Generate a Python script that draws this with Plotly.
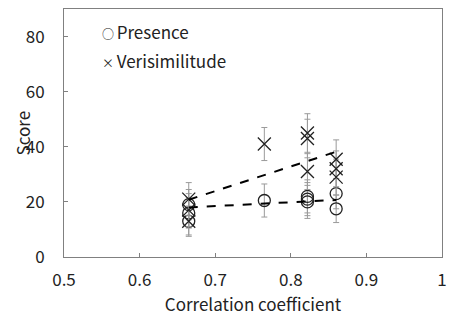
import plotly.graph_objects as go

# Data
pres_x = [0.665, 0.665, 0.665, 0.765, 0.822, 0.822, 0.822, 0.86, 0.86]
pres_y = [19.0, 16.0, 13.0, 20.5, 22.0, 21.0, 20.0, 23.0, 17.5]
pres_err = [5.5, 5.5, 5.0, 6.0, 6.0, 6.0, 6.0, 5.5, 5.0]

veri_x = [0.665, 0.665, 0.665, 0.765, 0.822, 0.822, 0.822, 0.86, 0.86, 0.86]
veri_y = [21.0, 17.0, 13.0, 41.0, 45.0, 43.0, 31.0, 35.5, 32.0, 29.0]
veri_err = [6.0, 6.0, 5.5, 6.0, 7.0, 7.0, 6.5, 7.0, 6.5, 6.5]

pres_fit_x = [0.665, 0.86]
pres_fit_y = [18.0, 20.7]
veri_fit_x = [0.665, 0.86]
veri_fit_y = [20.8, 38.2]

x_ticks = [0.5, 0.6, 0.7, 0.8, 0.9, 1.0]
x_tick_text = ["0.5", "0.6", "0.7", "0.8", "0.9", "1"]
y_ticks = [0, 20, 40, 60, 80]

legend_symbols = ["○", "×"]
legend_labels = ["Presence", "Verisimilitude"]

FONT = "Noto Sans CJK JP"
ERR = "#9a9a9a"
TXT = "#222"

fig = go.Figure()

fig.add_trace(go.Scatter(x=pres_x, y=pres_y, mode="markers", name="Presence", showlegend=False,
    error_y=dict(type="data", array=pres_err, color=ERR, thickness=1, width=3),
    marker=dict(symbol="circle-open", size=12, color=TXT, line=dict(width=1.3))))
fig.add_trace(go.Scatter(x=veri_x, y=veri_y, mode="markers", name="Verisimilitude", showlegend=False,
    error_y=dict(type="data", array=veri_err, color=ERR, thickness=1, width=3),
    marker=dict(symbol="x-thin-open", size=13, color=TXT, line=dict(width=1.3, color=TXT))))

fig.add_trace(go.Scatter(x=pres_fit_x, y=pres_fit_y, mode="lines", showlegend=False,
    line=dict(color="black", width=2, dash="dash")))
fig.add_trace(go.Scatter(x=veri_fit_x, y=veri_fit_y, mode="lines", showlegend=False,
    line=dict(color="black", width=2, dash="dash")))

# legend as text
for i, (sym, lab) in enumerate(zip(legend_symbols, legend_labels)):
    fig.add_annotation(text=f"<span style='font-size:12px'>{sym} </span>{lab}",
                       xref="paper", yref="paper", x=0.094, y=[0.908, 0.791][i],
                       xanchor="left", yanchor="middle", showarrow=False,
                       font=dict(size=17, family=FONT, color=TXT))

# y-axis title placed manually (overlaps tick label column like the reference)
fig.add_annotation(text="Score", xref="paper", yref="paper", x=(22 - 64) / 382, y=0.5,
                   xanchor="center", yanchor="middle", textangle=-90, showarrow=False,
                   font=dict(size=17, family=FONT, color=TXT))

axis_common = dict(showline=True, linecolor="#808080", linewidth=1, mirror=True,
                   ticks="inside", ticklen=4, tickcolor="#808080", showgrid=False,
                   zeroline=False, tickfont=dict(size=17, color=TXT, family=FONT))

fig.update_layout(
    width=455, height=321,
    margin=dict(l=64, r=9, t=8, b=64),
    plot_bgcolor="white", paper_bgcolor="white",
    font=dict(family=FONT, color=TXT),
    showlegend=False,
    xaxis=dict(range=[0.5, 1.0], tickvals=x_ticks, ticktext=x_tick_text, ticklabelstandoff=8,
               title=dict(text="Correlation coefficient", font=dict(size=17, family=FONT), standoff=4),
               **axis_common),
    yaxis=dict(range=[0, 90], tickvals=y_ticks, ticklabelstandoff=15, **axis_common),
)

fig.write_html("out.html")
